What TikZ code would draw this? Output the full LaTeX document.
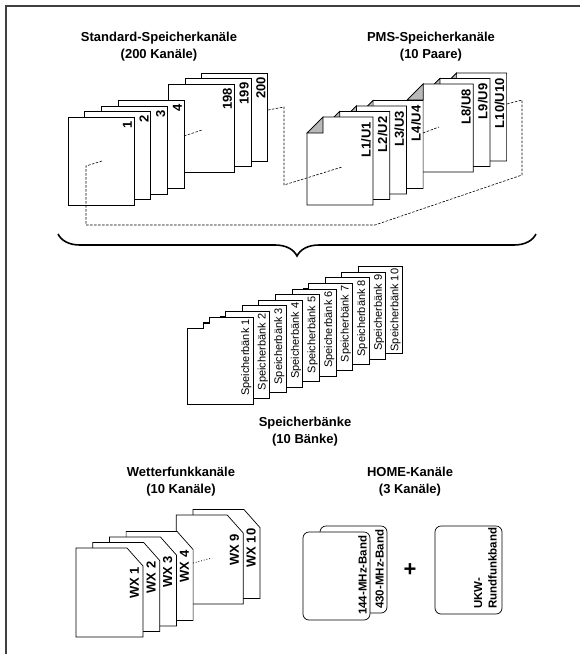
\documentclass[tikz,border=0pt]{standalone}
\usepackage{fontspec}
\setmainfont{Liberation Sans}
\usetikzlibrary{decorations.pathreplacing}

\begin{document}
\begin{tikzpicture}[x=1pt, y=-1pt,
        card/.style={draw=black, fill=white, line width=0.7pt},
        fold/.style={draw=black, fill=gray!55, line width=0.7pt},
        tag/.style={rotate=90, anchor=south east, inner sep=0pt, font=\bfseries\fontsize{13}{15}\selectfont},
        banktag/.style={rotate=90, anchor=south east, inner sep=0pt, font=\fontsize{11}{13}\selectfont},
        bandtag/.style={rotate=90, anchor=south west, inner sep=0pt, font=\bfseries\fontsize{11.5}{14.5}\selectfont},
        title/.style={align=center, font=\bfseries\fontsize{13}{17}\selectfont},
        link/.style={line width=0.6pt, dash pattern=on 2.5pt off 1.5pt}]
        \useasboundingbox (0,0) rectangle (580,654);

        % frame
        \draw[line width=2.4pt, black!75] (6,654) -- (6,6) -- (580,6);

        \node[title] (stdtitle) at (159,46.5) {Standard-Speicherkanäle\\(200 Kanäle)};
        \node[title] (pmstitle) at (431,46.5) {PMS-Speicherkanäle\\(10 Paare)};

        % standard channels
        \foreach \k/\t in {8/200,7/199,6/198,3/4,2/3,1/2,0/1} {
            \draw[card] ({68+16.7*\k},{117-5.5*\k}) rectangle ++(66,88);
            \node[tag] (std\t) at ({132+16.7*\k},{121-5.5*\k}) {\t};
        }

        % PMS channels
        \foreach \k/\n in {8/10,7/9,6/8,3/4,2/3,1/2,0/1} {
            \draw[card] ({307+16.7*\k},{133-5.5*\k}) -- ++(16,-16) -- ++(50,0) -- ++(0,88) -- ++(-66,0) -- cycle;
            \draw[fold] ({307+16.7*\k},{133-5.5*\k}) -- ++(16,-16) -- ++(0,16) -- cycle;
            \node[tag] (pms\n) at ({371+16.7*\k},{122-5.5*\k}) {L\n/U\n};
        }

        \draw[link] (102,161) -- (86,166) -- (86,225) -- (375,225) -- (522,175) -- (522,100) -- (507,104);
        \draw[link] (268,110) -- (284,107) -- (284,185) -- (342,167);
        \draw[link] (184,136) -- (202,130);
        \draw[link] (423,133) -- (439,127);

        \draw[line width=1.6pt, decorate, decoration={brace, amplitude=22pt}] (536,234) -- (58,234);

        % memory banks
        \foreach \k/\n in {9/10,8/9,7/8,6/7,5/6,4/5,3/4,2/3,1/2,0/1} {
            \draw[card] ({187+16.6*\k},{328-5.6*\k}) -- ++(16,0) -- ++(0,-5) -- ++(6,0) -- ++(0,-6) -- ++(44,0) -- ++(0,87) -- ++(-66,0) -- cycle;
            \node[banktag] (bank\n) at ({251.5+16.6*\k},{319-5.6*\k}) {Speicherbänk \n};
        }
        \node[title] (banktitle) at (305,432) {Speicherbänke\\(10 Bänke)};

        % weather
        \node[title] (wxtitle) at (181,482) {Wetterfunkkanäle\\(10 Kanäle)};
        \foreach \k/\n in {7/10,6/9,3/4,2/3,1/2,0/1} {
            \draw[card] ({76+16.7*\k},{548-5.5*\k}) -- ++(51,0) -- ++(16,18) -- ++(0,71) -- ++(-67,0) -- cycle;
            \node[tag] (wx\n) at ({139+16.7*\k},{567-5.5*\k}) {WX \n};
        }
        \draw[line width=0.8pt, dotted] (193,563) -- (212,558);

        % home
        \node[title] (hometitle) at (410,482) {HOME-Kanäle\\(3 Kanäle)};
        \draw[card, rounded corners=6pt] (320,526) rectangle (387,613);
        \node[bandtag] (band430) at (384,609) {430-MHz-Band};
        \draw[card, rounded corners=6pt] (303,532) rectangle (370,620);
        \node[bandtag] (band144) at (367,615) {144-MHz-Band};
        \node[font=\bfseries\fontsize{22}{22}\selectfont] (plus) at (410,570) {+};
        \draw[card, rounded corners=6pt] (435,526) rectangle (502,614);
        \node[bandtag, align=left] (ukw) at (497,609) {UKW-\\Rundfunkband};
    \end{tikzpicture}
\end{document}
